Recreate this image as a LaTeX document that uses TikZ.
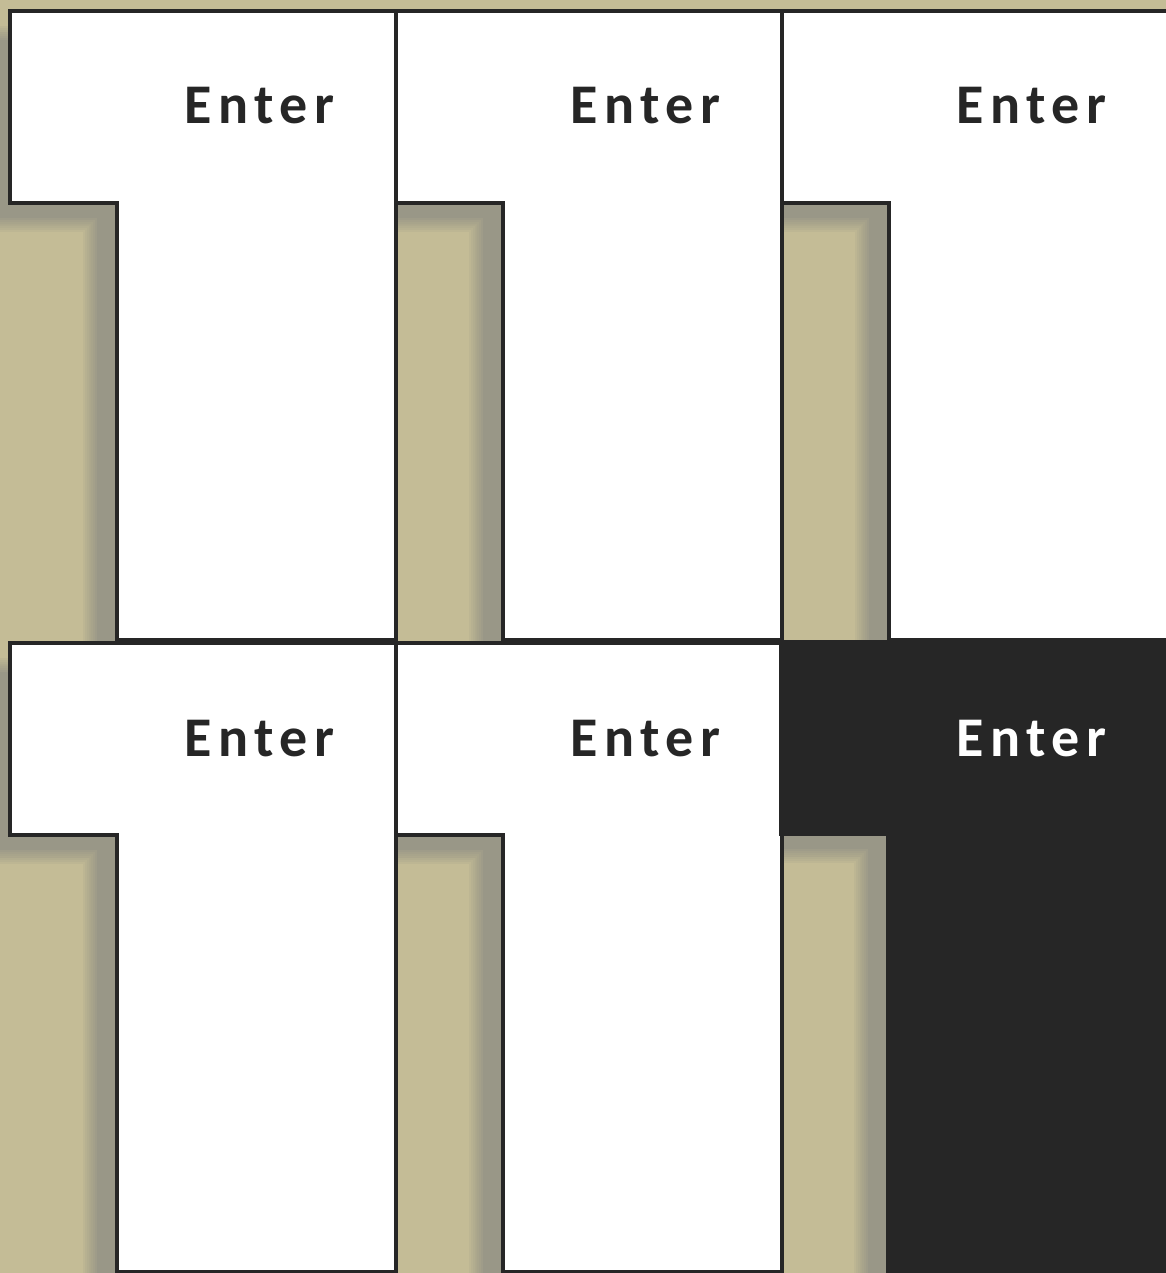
\documentclass[tikz,border=0pt]{standalone}
\usepackage{fontspec}
\newfontfamily\keyfont[LetterSpace=12]{Carlito}
\definecolor{tanbg}{RGB}{196,188,150}
\definecolor{shadowc}{RGB}{153,151,135}
\definecolor{keyline}{RGB}{38,38,38}
\tikzset{
  keybox/.style={fill=white, draw=keyline, line width=4.8pt, line join=miter},
  darkkey/.style={fill=keyline, draw=keyline, line width=4.8pt, line join=miter},
  keylabel/.style={font=\keyfont\bfseries\fontsize{56}{60}\selectfont, text=keyline, anchor=base west, inner sep=0pt},
  darklabel/.style={keylabel, text=white},
}
\newcommand\keyshape[2]{(#1,#2) -- ++(386,0) -- ++(0,629) -- ++(-279,0) -- ++(0,-437) -- ++(-107,0) -- cycle}
\newcommand\softshadow[2]{%
  \foreach \w in {14,10,6,2}{\draw[shadowc, opacity=0.15, line width=\w pt] \keyshape{#1}{#2};}
  \fill[shadowc] \keyshape{#1}{#2};
  \begin{scope}
    \clip \keyshape{#1}{#2};
    \foreach \w in {14,10,6,2}{\draw[tanbg, opacity=0.15, line width=\w pt] \keyshape{#1}{#2};}
  \end{scope}}
\begin{document}
\begin{tikzpicture}[x=1pt,y=-1pt]
  \clip (0,0) rectangle (1166,1273);
  \fill[tanbg] (0,0) rectangle (1166,1273);
  % shadows
  \softshadow{-17}{33}
  \softshadow{369}{33}
  \softshadow{755}{33}
  \softshadow{-17}{665}
  \softshadow{369}{665}
  \softshadow{754}{664}
  % keys row 1
  \draw[keybox] \keyshape{10}{11};
  \draw[keybox] \keyshape{396}{11};
  \draw[keybox] \keyshape{782}{11};
  % keys row 2
  \draw[keybox] \keyshape{10}{643};
  \draw[keybox] \keyshape{396}{643};
  \draw[darkkey] \keyshape{781}{642};
  % labels
  \node[keylabel] (l11) at (184,124) {Enter};
  \node[keylabel] (l12) at (570,124) {Enter};
  \node[keylabel] (l13) at (956,124) {Enter};
  \node[keylabel] (l21) at (184,756) {Enter};
  \node[keylabel] (l22) at (570,756) {Enter};
  \node[darklabel] (l23) at (956,756) {Enter};
\end{tikzpicture}
\end{document}
